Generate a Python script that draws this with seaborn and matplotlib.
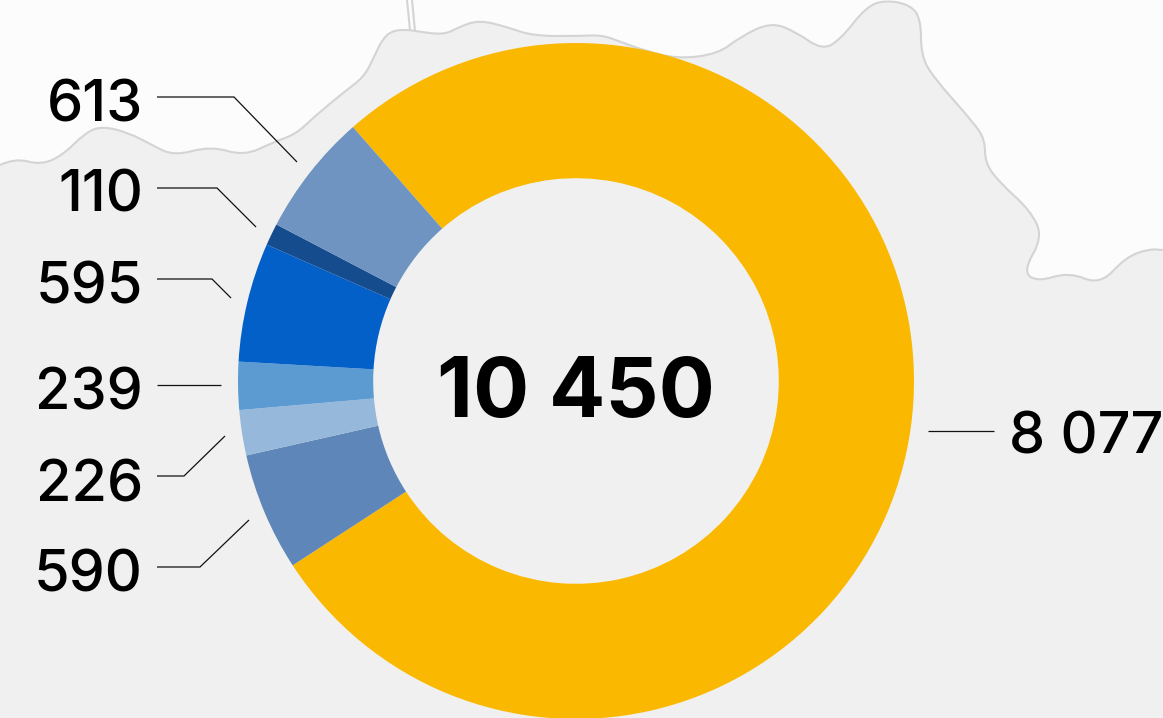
import numpy as np
import seaborn as sns
import matplotlib.pyplot as plt
from matplotlib.patches import PathPatch
from matplotlib.path import Path

# chart values, clockwise from the big yellow slice
values = [8077, 590, 226, 239, 595, 110, 613]
slice_colors = ["#fab900", "#5e86b9", "#96b8da", "#5b9bd2", "#0360c9", "#154c8e", "#6f94c1"]
total = 10450

W, H = 1163, 718
CX, CY, R = 576, 381, 338
START_ANGLE = 131.3

# leader lines and label anchors in picture pixels, same order as values
leaders = [
    [(928, 431), (994, 431)],
    [(157, 567), (200, 567), (249, 520)],
    [(157, 476), (184, 476), (225, 436)],
    [(157, 385), (221, 385)],
    [(157, 279), (212, 279), (231, 298)],
    [(157, 188), (217, 188), (256, 227)],
    [(157, 97), (234, 97), (297, 162)],
]
label_pos = [(1009, 432), (143, 570), (143, 480), (143, 388), (143, 282), (143, 191), (143, 101)]

# map outline behind the ring
border = [
    (0, 165), (15, 158), (41, 165), (63, 155), (85, 133), (102, 126), (129, 133), (152, 145),
    (174, 156), (211, 146), (244, 156), (274, 142), (296, 134), (314, 117), (344, 92), (364, 77),
    (374, 57), (383, 38), (394, 30), (410, 30), (415, 31), (444, 35), (459, 27), (479, 20),
    (507, 27), (533, 36), (580, 36), (602, 35), (621, 42), (643, 50), (677, 59), (718, 54),
    (740, 37), (771, 22), (796, 32), (822, 50), (840, 40), (866, 7), (885, 0), (911, 5),
    (921, 20), (921, 55), (933, 77), (974, 123), (985, 140), (985, 163), (1000, 183), (1030, 210),
    (1043, 237), (1023, 271), (1037, 282), (1069, 272), (1100, 285), (1126, 257), (1149, 249), (1163, 250),
]
road = [[(407, 0), (410, 30)], [(412, 0), (415, 31)]]


def smoothPath(points, closed_tail=None):
    # quadratic segments through the midpoints, keeps the ends in place
    pts = np.array(points, dtype=float)
    verts = [pts[0]]
    codes = [Path.MOVETO]
    for i in range(1, len(pts) - 1):
        verts += [pts[i], (pts[i] + pts[i + 1]) / 2]
        codes += [Path.CURVE3, Path.CURVE3]
    verts.append(pts[-1])
    codes.append(Path.LINETO)
    for p in closed_tail or []:
        verts.append(np.array(p, dtype=float))
        codes.append(Path.LINETO)
    return Path(verts, codes)


sns.set_theme(style="white")
plt.rcParams["font.family"] = ["Inter", "DejaVu Sans"]

fig = plt.figure(figsize=(W / 100, H / 100), dpi=100, facecolor="#fcfcfc")

# background layer works in picture pixels
bg_ax = fig.add_axes([0, 0, 1, 1])
bg_ax.set_xlim(0, W)
bg_ax.set_ylim(H, 0)
bg_ax.axis("off")

bg_ax.add_patch(PathPatch(smoothPath(border, [(W, H), (0, H)]), facecolor="#f0f0f0", edgecolor="none"))
bg_ax.add_patch(PathPatch(smoothPath(border), facecolor="none", edgecolor="#d4d4d4", lw=1.5))
for line in road:
    xs, ys = zip(*line)
    bg_ax.plot(xs, ys, color="#d4d4d4", lw=1.5)

for pts, (lx, ly), v in zip(leaders, label_pos, values):
    xs, ys = zip(*pts)
    bg_ax.plot(xs, ys, color="#111111", lw=0.9, solid_capstyle="butt", solid_joinstyle="miter")
    bg_ax.text(lx, ly, f"{v:,}".replace(",", " "), fontsize=41.5, fontweight="medium", color="black",
               ha="left" if lx > CX else "right", va="center_baseline")

bg_ax.text(CX, 386, f"{total:,}".replace(",", " "), fontsize=60, fontweight="bold",
           color="black", ha="center", va="center_baseline")

# ring axes runs a pixel past the bottom of the figure, as in the picture
pie_ax = fig.add_axes([(CX - R) / W, (H - CY - R) / H, 2 * R / W, 2 * R / H])
pie_ax.pie(values, colors=sns.color_palette(slice_colors), startangle=START_ANGLE, counterclock=False,
           radius=1, wedgeprops={"width": 0.4, "linewidth": 0})
pie_ax.set_xlim(-1, 1)
pie_ax.set_ylim(-1, 1)
pie_ax.patch.set_alpha(0)

# text sits on top of the ring axes
bg_ax.set_zorder(2)
bg_ax.patch.set_alpha(0)
pie_ax.set_zorder(3)

fig.savefig("out.png", dpi=100, facecolor=fig.get_facecolor())
